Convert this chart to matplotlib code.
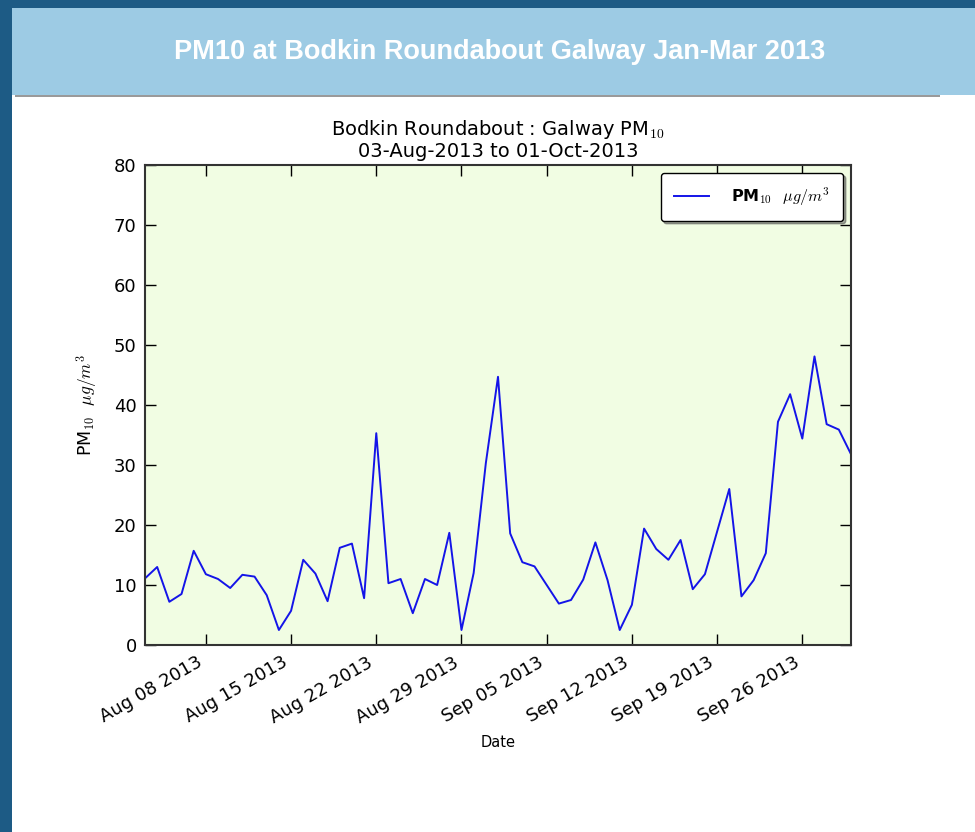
import numpy as np
import pandas as pd
import matplotlib
matplotlib.use('Agg')
import matplotlib.pyplot as plt
import matplotlib.dates as mdates
from matplotlib.patches import Rectangle

plt.rcParams['mathtext.fontset'] = 'cm'

PAGE_TITLE = "PM10 at Bodkin Roundabout Galway Jan-Mar 2013"
PLOT_TITLE = "Bodkin Roundabout : Galway PM$_{10}$\n03-Aug-2013 to 01-Oct-2013"
START_DATE = '2013-08-03'

# daily mean PM10, ug/m3
PM10 = [11.1, 13.0, 7.2, 8.5, 15.7, 11.8, 11.0, 9.5, 11.7, 11.4,
        8.3, 2.5, 5.7, 14.2, 11.9, 7.3, 16.2, 16.9, 7.8, 35.3,
        10.3, 11.0, 5.3, 11.0, 10.0, 18.7, 2.5, 12.0, 30.3, 44.7,
        18.6, 13.8, 13.1, 10.0, 6.9, 7.5, 10.9, 17.1, 10.8, 2.5,
        6.7, 19.4, 16.0, 14.2, 17.5, 9.3, 11.8, 18.9, 26.0, 8.1,
        10.8, 15.3, 37.2, 41.8, 34.4, 48.1, 36.8, 35.9, 31.8]

dates = pd.date_range(START_DATE, periods=len(PM10), freq='D')

BORDER = '#1d5b85'
HEADER = '#9dcbe4'
PLOTBG = '#f1fde3'

fig = plt.figure(figsize=(9.75, 8.32), dpi=100)
fig.patch.set_facecolor('white')

# page frame: header band, dark border on top and left
W, H = 975.0, 832.0
fig.patches.append(Rectangle((0, 1 - 95 / H), 1, 95 / H, transform=fig.transFigure,
                             facecolor=HEADER, edgecolor='none', zorder=0))
fig.patches.append(Rectangle((0, 1 - 8 / H), 1, 8 / H, transform=fig.transFigure,
                             facecolor=BORDER, edgecolor='none', zorder=1))
fig.patches.append(Rectangle((0, 0), 12 / W, 1, transform=fig.transFigure,
                             facecolor=BORDER, edgecolor='none', zorder=1))
fig.patches.append(Rectangle((15 / W, 1 - 97 / H), 925 / W, 2 / H, transform=fig.transFigure,
                             facecolor='#9a9a9a', edgecolor='none', zorder=1))
fig.text(500 / W, 1 - 52 / H, PAGE_TITLE, color='white', fontsize=19.5, fontweight='bold',
         family=['Liberation Sans', 'DejaVu Sans'], ha='center', va='center')

ax = fig.add_axes([145 / W, 1 - 645 / H, 706 / W, 480 / H])
ax.set_facecolor(PLOTBG)
ax.plot(dates, PM10, color='#1414e8', linewidth=1.4, label=r"PM$_{10}$  $\mu g/m^3$")

ax.set_xlim(dates[0], dates[-1])
ax.set_ylim(0, 80)
ax.set_yticks(np.arange(0, 81, 10))
ax.xaxis.set_major_locator(mdates.WeekdayLocator(byweekday=mdates.TH))
ax.xaxis.set_major_formatter(mdates.DateFormatter('%b %d %Y'))
ax.tick_params(direction='in', length=8, width=1, top=True, right=True, labelsize=13, pad=6)
for lab in ax.get_xticklabels():
    lab.set_rotation(30)
    lab.set_ha('right')
for sp in ax.spines.values():
    sp.set_linewidth(1.5)
    sp.set_color('#333333')

ax.set_title(PLOT_TITLE, fontsize=14, linespacing=1.05, pad=6)
ax.set_xlabel('Date', fontsize=10.5, labelpad=6)
ax.set_ylabel(r"PM$_{10}$  $\mu g/m^3$", fontsize=12.5, labelpad=10)

leg = ax.legend(loc='upper right', fancybox=True, shadow=True,
                prop={'weight': 'bold', 'size': 11.5},
                handlelength=2.2, handletextpad=1.4, borderpad=0.8)
leg.get_frame().set_edgecolor('black')
leg.get_frame().set_facecolor('white')

fig.savefig('out.png', dpi=100)
